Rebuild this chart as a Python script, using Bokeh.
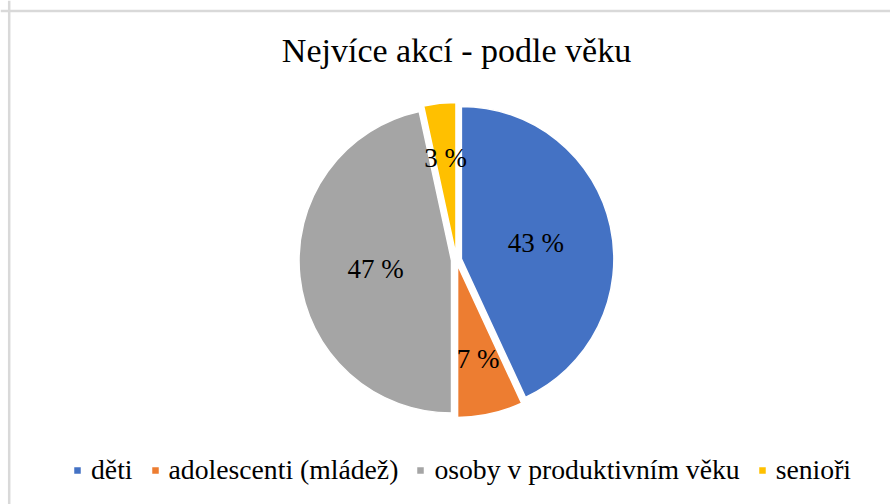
import math
from bokeh.plotting import figure
from bokeh.models import ColumnDataSource, Range1d, Label, Legend, LegendItem, Span
from bokeh.core.properties import value
from bokeh.embed import file_html
from bokeh.resources import INLINE

# ---- data ----
categories = ["děti", "adolescenti (mládež)", "osoby v produktivním věku", "senioři"]
shares = [43.1, 6.9, 46.6, 3.4]
colors = ["#4472C4", "#ED7D31", "#A5A5A5", "#FFC000"]
title_text = "Nejvíce akcí - podle věku"

# ---- layout constants ----
W, H = 890, 504
CX, CY = 456, 244.5
R = 152.5
EXPLODE = 5
LABEL_FRAC = [0.5, 0.63, 0.5, 0.64]
FONT = "'Liberation Serif', 'Times New Roman', Times, serif"

total = sum(shares)
xs, ys, starts, ends, lxs, lys, texts = [], [], [], [], [], [], []
cum = 0.0
for i, v in enumerate(shares):
    f0 = cum / total
    cum += v
    f1 = cum / total
    a_start = math.pi / 2 - 2 * math.pi * f1
    a_end = math.pi / 2 - 2 * math.pi * f0
    mid = (a_start + a_end) / 2
    ox = CX + EXPLODE * math.cos(mid)
    oy = CY + EXPLODE * math.sin(mid)
    xs.append(ox)
    ys.append(oy)
    starts.append(a_start)
    ends.append(a_end)
    lxs.append(ox + LABEL_FRAC[i] * R * math.cos(mid))
    lys.append(oy + LABEL_FRAC[i] * R * math.sin(mid))
    texts.append(f"{round(v / total * 100)} %")

src = ColumnDataSource(dict(x=xs, y=ys, start=starts, end=ends, color=colors,
                            name=categories, lx=lxs, ly=lys, txt=texts))

p = figure(width=W, height=H, output_backend="svg", toolbar_location=None,
           x_range=Range1d(0, W), y_range=Range1d(0, H), min_border=0)
p.axis.visible = False
p.grid.visible = False
p.outline_line_color = None
p.background_fill_color = "white"
p.border_fill_color = "white"

wr = p.wedge(x="x", y="y", radius=R, start_angle="start", end_angle="end",
             fill_color="color", line_color="white", line_width=1.5, source=src)

p.text(x="lx", y="ly", text="txt", source=src, text_font=value(FONT),
       text_font_size=value("27px"), text_align="center",
       text_baseline="middle", text_color="black")

p.add_layout(Label(x=CX, y=454, text=title_text, text_font=FONT,
                   text_font_size="34px", text_align="center",
                   text_baseline="middle", text_color="black"))

items = [LegendItem(label=categories[i], renderers=[wr], index=i) for i in range(len(categories))]
legend = Legend(items=items, orientation="horizontal", location=(72, 18),
                glyph_width=10, glyph_height=10, label_standoff=9, spacing=17,
                padding=0, margin=0, border_line_color=None,
                background_fill_alpha=0, label_text_font=FONT,
                label_text_font_size="27.7px", label_height=28,
                label_text_color="black")
p.add_layout(legend)

p.add_layout(Span(location=8.7, dimension="height", line_color="#D9D9D9", line_width=2.5))
p.add_layout(Span(location=493.5, dimension="width", line_color="#D9D9D9", line_width=2.5))

open("out.html", "w").write(file_html(p, INLINE))
